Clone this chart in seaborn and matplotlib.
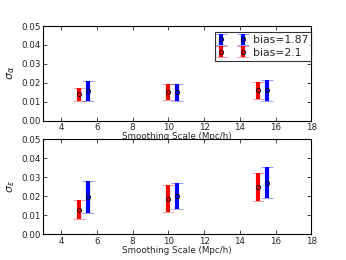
import numpy as np
import pandas as pd
import matplotlib
matplotlib.use("Agg")
import matplotlib.pyplot as plt
import seaborn as sns

# smoothing scales; the bias=1.87 points sit half a unit to the right
scales = [5, 10, 15]
offset = 0.5

# sigma_alpha (top panel): centre, lower, upper
alpha_b210 = [0.0138, 0.0150, 0.0160]
alpha_b210_lo = [0.0105, 0.0110, 0.0115]
alpha_b210_hi = [0.0170, 0.0195, 0.0203]
alpha_b187 = [0.0157, 0.0150, 0.0162]
alpha_b187_lo = [0.0103, 0.0105, 0.0105]
alpha_b187_hi = [0.0210, 0.0195, 0.0215]

# sigma_epsilon (bottom panel)
eps_b210 = [0.0128, 0.0187, 0.0248]
eps_b210_lo = [0.0078, 0.0115, 0.0173]
eps_b210_hi = [0.0180, 0.0260, 0.0323]
eps_b187 = [0.0197, 0.0200, 0.0270]
eps_b187_lo = [0.0113, 0.0130, 0.0190]
eps_b187_hi = [0.0278, 0.0270, 0.0355]

sns.set_theme(style="ticks", rc={
    "xtick.direction": "in", "ytick.direction": "in",
    "xtick.top": True, "ytick.right": True,
    "axes.linewidth": 0.8, "axes.edgecolor": "black",
    "font.size": 6.3, "xtick.labelsize": 6.3, "ytick.labelsize": 6.3,
    "axes.labelsize": 6.3, "legend.fontsize": 7.8,
})
plt.rcParams["font.family"] = ["DejaVu Sans"]


def draw(ax, x, y, lo, hi, color, label):
    y = np.array(y)
    err = [y - np.array(lo), np.array(hi) - y]
    eb = ax.errorbar(x, y, yerr=err, fmt="o", color=color, ms=3,
                     mfc=color, mec="black", mew=0.6, elinewidth=3,
                     capsize=4.2, capthick=1, label=label)
    for cap in eb[1]:
        cap.set_alpha(0.45)
    return eb


fig, axes = plt.subplots(2, 1, figsize=(3.46, 2.6), dpi=100)
fig.subplots_adjust(left=0.125, right=0.9, bottom=0.1, top=0.9, hspace=0.2)

panels = [
    (axes[0], alpha_b187, alpha_b187_lo, alpha_b187_hi,
     alpha_b210, alpha_b210_lo, alpha_b210_hi, r"$\sigma_\alpha$"),
    (axes[1], eps_b187, eps_b187_lo, eps_b187_hi,
     eps_b210, eps_b210_lo, eps_b210_hi, r"$\sigma_\epsilon$"),
]

x187 = [s + offset for s in scales]
for ax, b187, b187_lo, b187_hi, b210, b210_lo, b210_hi, ylab in panels:
    draw(ax, x187, b187, b187_lo, b187_hi, "blue", "bias=1.87")
    draw(ax, scales, b210, b210_lo, b210_hi, "red", "bias=2.1")
    ax.set_xlim(3, 18)
    ax.set_ylim(0, 0.05)
    ax.set_xticks([4, 6, 8, 10, 12, 14, 16, 18])
    ax.set_yticks([0, 0.01, 0.02, 0.03, 0.04, 0.05])
    ax.set_yticklabels(["0.00", "0.01", "0.02", "0.03", "0.04", "0.05"])
    ax.set_xlabel("Smoothing Scale (Mpc/h)", labelpad=0)
    ax.set_ylabel(ylab, labelpad=3, fontsize=8)
    ax.tick_params(length=3, width=0.6, pad=2)

leg = axes[0].legend(loc="upper right", bbox_to_anchor=(1.0, 0.94),
                     numpoints=2, frameon=True, fancybox=False,
                     edgecolor="black", borderaxespad=0.0,
                     handlelength=2.6, labelspacing=0.25, borderpad=0.3,
                     handletextpad=0.6)
leg.get_frame().set_linewidth(0.8)

fig.savefig("out.png", dpi=100)
